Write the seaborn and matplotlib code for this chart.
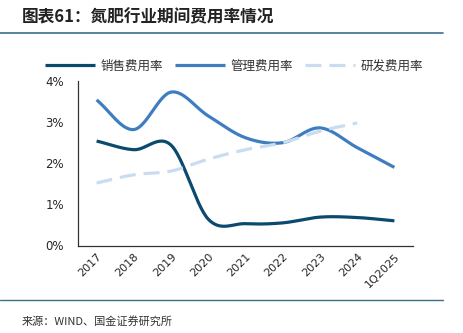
import numpy as np
import pandas as pd
import matplotlib
matplotlib.use("Agg")
import matplotlib.pyplot as plt
import seaborn as sns

categories = ["2017", "2018", "2019", "2020", "2021", "2022", "2023", "2024", "1Q2025"]
sales = [2.54, 2.33, 2.44, 0.64, 0.53, 0.55, 0.69, 0.68, 0.60]
admin = [3.54, 2.82, 3.73, 3.15, 2.62, 2.50, 2.86, 2.38, 1.90]
rnd = [1.52, 1.72, 1.81, 2.10, 2.33, 2.50, 2.78, 2.98, np.nan]
y_ticks = [0, 1, 2, 3, 4]
y_labels = ["0%", "1%", "2%", "3%", "4%"]
series_names = ["销售费用率", "管理费用率", "研发费用率"]

sns.set_theme(style="white")
plt.rcParams['font.family'] = ['Noto Sans CJK SC', 'DejaVu Sans']


def smooth(xs, ys, n=30):
    xs = np.asarray(xs, float)
    ys = np.asarray(ys, float)
    m = ~np.isnan(ys)
    xs, ys = xs[m], ys[m]
    px = np.concatenate([[2 * xs[0] - xs[1]], xs, [2 * xs[-1] - xs[-2]]])
    py = np.concatenate([[2 * ys[0] - ys[1]], ys, [2 * ys[-1] - ys[-2]]])
    ox, oy = [], []
    t = np.linspace(0, 1, n, endpoint=False)
    for i in range(1, len(px) - 2):
        p0, p1, p2, p3 = py[i - 1], py[i], py[i + 1], py[i + 2]
        q0, q1, q2, q3 = px[i - 1], px[i], px[i + 1], px[i + 2]
        k = 1 / 6
        b1y, b2y = p1 + (p2 - p0) * k, p2 - (p3 - p1) * k
        b1x, b2x = q1 + (q2 - q0) * k, q2 - (q3 - q1) * k
        oy.append((1 - t) ** 3 * p1 + 3 * (1 - t) ** 2 * t * b1y + 3 * (1 - t) * t ** 2 * b2y + t ** 3 * p2)
        ox.append((1 - t) ** 3 * q1 + 3 * (1 - t) ** 2 * t * b1x + 3 * (1 - t) * t ** 2 * b2x + t ** 3 * q2)
    ox.append([xs[-1]])
    oy.append([ys[-1]])
    return np.concatenate(ox), np.concatenate(oy)


fig = plt.figure(figsize=(4.63, 3.33), dpi=100)
ax = fig.add_axes([78 / 463, 1 - 245.5 / 333, (413 - 78) / 463, (245.5 - 81) / 333])

colors = ["#0B4A6E", "#3E7EC0", "#C9DCF0"]
styles = ["-", "-", (0, (5, 2.5))]
x = np.arange(len(categories))
for vals, c, ls, name in zip([sales, admin, rnd], colors, styles, series_names):
    sx, sy = smooth(x, vals)
    df = pd.DataFrame({"x": sx, "y": sy})
    sns.lineplot(data=df, x="x", y="y", ax=ax, color=c, linewidth=2.3,
                 linestyle=ls, label=name, sort=False, estimator=None)
    ax.lines[-1].set_linestyle(ls)
    ax.lines[-1].set_solid_capstyle("butt")

ax.set_xlim(-0.5, len(categories) - 0.5)
ax.set_ylim(0, 4)
ax.set_xticks(np.arange(len(categories) + 1) - 0.5, minor=False)
ax.set_xticklabels([])
ax.set_xticks(x, minor=True)
ax.set_xticklabels(categories, minor=True, rotation=45, ha="right", rotation_mode="anchor",
                   fontsize=8, family=["DejaVu Sans"])
ax.tick_params(axis="x", which="major", direction="in", length=3, width=0.8, color="#333333")
ax.tick_params(axis="x", which="minor", length=0, pad=4)
ax.set_yticks(y_ticks)
ax.set_yticklabels(y_labels, fontsize=8.5, family=["DejaVu Sans"])
ax.tick_params(axis="y", direction="in", length=2, width=0.8, color="#333333", pad=10)
ax.set_xlabel("")
ax.set_ylabel("")
for s in ["top", "right"]:
    ax.spines[s].set_visible(False)
for s in ["left", "bottom"]:
    ax.spines[s].set_color("#333333")
    ax.spines[s].set_linewidth(0.9)

handles, labels = ax.get_legend_handles_labels()
if ax.get_legend():
    ax.get_legend().remove()
leg = fig.legend(handles, labels, loc="center", bbox_to_anchor=(234 / 463, 1 - 66 / 333),
                 ncol=3, frameon=False, fontsize=9, handlelength=4.0, handletextpad=0.4,
                 columnspacing=1.0)
for t in leg.get_texts():
    t.set_color("#333333")

fig.text(22 / 463, 1 - 17 / 333, "图表61：氮肥行业期间费用率情况", fontsize=12,
         fontweight="bold", style="italic", color="#222222", va="center", ha="left")
fig.add_artist(plt.Line2D([0, 443 / 463], [1 - 33 / 333, 1 - 33 / 333], color="#3B6F90", linewidth=1.2))
fig.add_artist(plt.Line2D([0, 443 / 463], [1 - 300 / 333, 1 - 300 / 333], color="#3B6F90", linewidth=1.0))
fig.text(22 / 463, 1 - 321 / 333, "来源：WIND、国金证券研究所", fontsize=8, color="#333333",
         va="center", ha="left")

fig.savefig("out.png", dpi=100)
